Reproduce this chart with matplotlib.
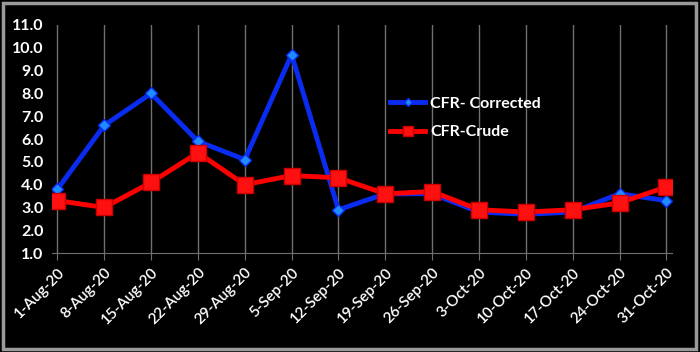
import matplotlib.pyplot as plt
from matplotlib.patches import Rectangle

dates = ['1-Aug-20', '8-Aug-20', '15-Aug-20', '22-Aug-20', '29-Aug-20', '5-Sep-20',
         '12-Sep-20', '19-Sep-20', '26-Sep-20', '3-Oct-20', '10-Oct-20', '17-Oct-20',
         '24-Oct-20', '31-Oct-20']
cfr_corrected = [3.8, 6.6, 8.0, 5.9, 5.1, 9.7, 2.9, 3.6, 3.6, 2.8, 2.7, 2.8, 3.6, 3.3]
cfr_crude = [3.3, 3.0, 4.1, 5.4, 4.0, 4.4, 4.3, 3.6, 3.7, 2.9, 2.8, 2.9, 3.2, 3.9]

plt.rcParams['font.family'] = ['Lato', 'DejaVu Sans']

fig = plt.figure(figsize=(7, 3.52), dpi=100, facecolor='black')
fig.patches.append(Rectangle((0.004, 0.008), 0.99, 0.984, transform=fig.transFigure,
                             fill=False, edgecolor='#9a9a9a', linewidth=2.5))
ax = fig.add_axes([0.074, 0.281, 0.886, 0.648], facecolor='black')

x = list(range(len(dates)))
ax.plot(x, cfr_corrected, color='#0a2cf0', lw=3.5, marker='D', ms=6.5,
        mfc='#1e8cff', mec='#0a2cf0', label='CFR- Corrected', zorder=3)
ax.plot(x, cfr_crude, color='#ff0000', lw=3.5, marker='s', ms=11,
        mfc='#ff1010', mec='#cc0000', label='CFR-Crude', zorder=4)

ax.set_xlim(-0.12, 13.12)
ax.set_ylim(1, 11)
ax.set_yticks([1, 2, 3, 4, 5, 6, 7, 8, 9, 10, 11])
ax.set_yticklabels([f'{v:.1f}' for v in range(1, 12)])
ax.set_xticks(x)
ax.set_xticklabels(dates, rotation=45, ha='right', rotation_mode='anchor')
ax.grid(axis='x', color='#707070', lw=1)
ax.set_axisbelow(True)
for s in ['top', 'right', 'left']:
    ax.spines[s].set_visible(False)
ax.spines['bottom'].set_color('#707070')
ax.tick_params(axis='y', length=0, colors='white', labelsize=11.5, pad=6)
ax.tick_params(axis='x', length=5, color='#707070', colors='white', labelsize=11, pad=4)
for lbl in ax.get_yticklabels():
    lbl.set_fontweight('bold')
for lbl in ax.get_xticklabels():
    lbl.set_fontweight('semibold')

leg = ax.legend(loc='upper left', bbox_to_anchor=(0.535, 0.715), frameon=False,
                labelcolor='white', prop={'weight': 'bold', 'size': 11.5},
                handlelength=2.2, handletextpad=0.3, labelspacing=0.9,
                markerscale=0.6, borderaxespad=0)

fig.savefig('out.png', dpi=100, facecolor='black')
